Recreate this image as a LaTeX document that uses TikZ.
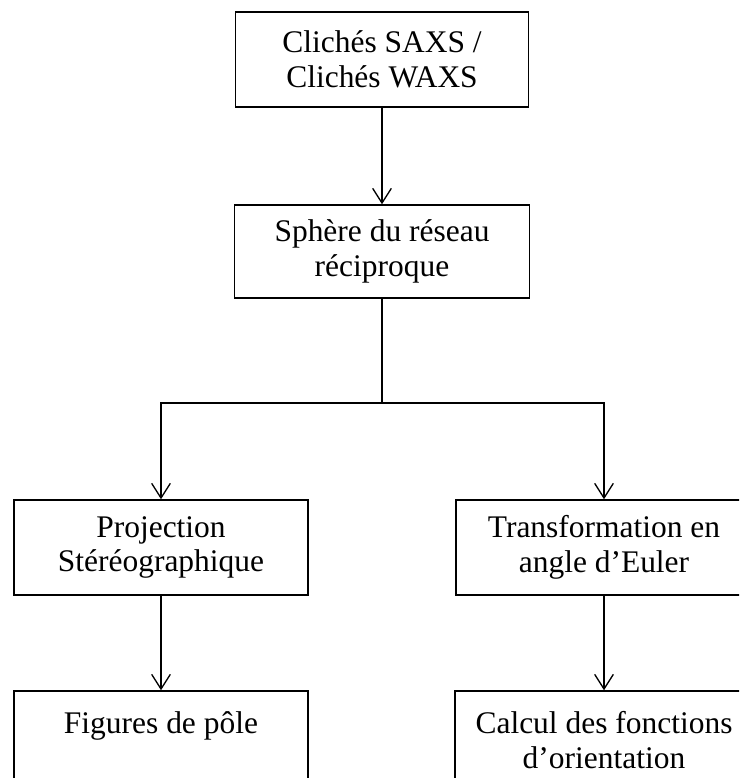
\documentclass[tikz,border=0pt]{standalone}
\usepackage{fontspec}
\setmainfont{Liberation Serif}
\usetikzlibrary{arrows.meta}
\begin{document}
\begin{tikzpicture}[x=0.75pt,y=-0.75pt,
  box/.style={draw,line width=1.1pt,rectangle,align=center,inner sep=0pt,
    font=\fontsize{23.6}{26.2}\selectfont},
  conn/.style={line width=1.1pt},
  arr/.style={conn,-{Straight Barb[length=11pt,width=14pt,line width=1pt]}}]
\useasboundingbox (0,0) rectangle (739,778);
\clip (0,0) rectangle (739,778);
\fill[white] (0,0) rectangle (739,778);
\node[box,minimum width=293*0.75pt,minimum height=95*0.75pt] (b1) at (382,59.5) {Clichés SAXS /\\Clichés WAXS};
\node[box,minimum width=295*0.75pt,minimum height=93*0.75pt] (b2) at (382,251.5) {Sphère du réseau\\réciproque};
\node[box,minimum width=294*0.75pt,minimum height=95*0.75pt] (b3l) at (161,547.5) {Projection\\Stéréographique};
\node[box,minimum width=296*0.75pt,minimum height=95*0.75pt] (b3r) at (604,547.5) {Transformation en\\angle d’Euler};
\node[box,minimum width=294*0.75pt,minimum height=99*0.75pt] (b4l) at (161,740.5) {Figures de pôle\\\mbox{}};
\node[box,minimum width=298*0.75pt,minimum height=99*0.75pt] (b4r) at (604,740.5) {Calcul des fonctions\\d’orientation};
\coordinate (j) at (382,403);
\draw[arr] (b1) -- (b2);
\draw[conn] (b2) -- (j);
\draw[arr] (j) -| (b3l);
\draw[arr] (j) -| (b3r);
\draw[arr] (b3l) -- (b4l);
\draw[arr] (b3r) -- (b4r);
\end{tikzpicture}
\end{document}
